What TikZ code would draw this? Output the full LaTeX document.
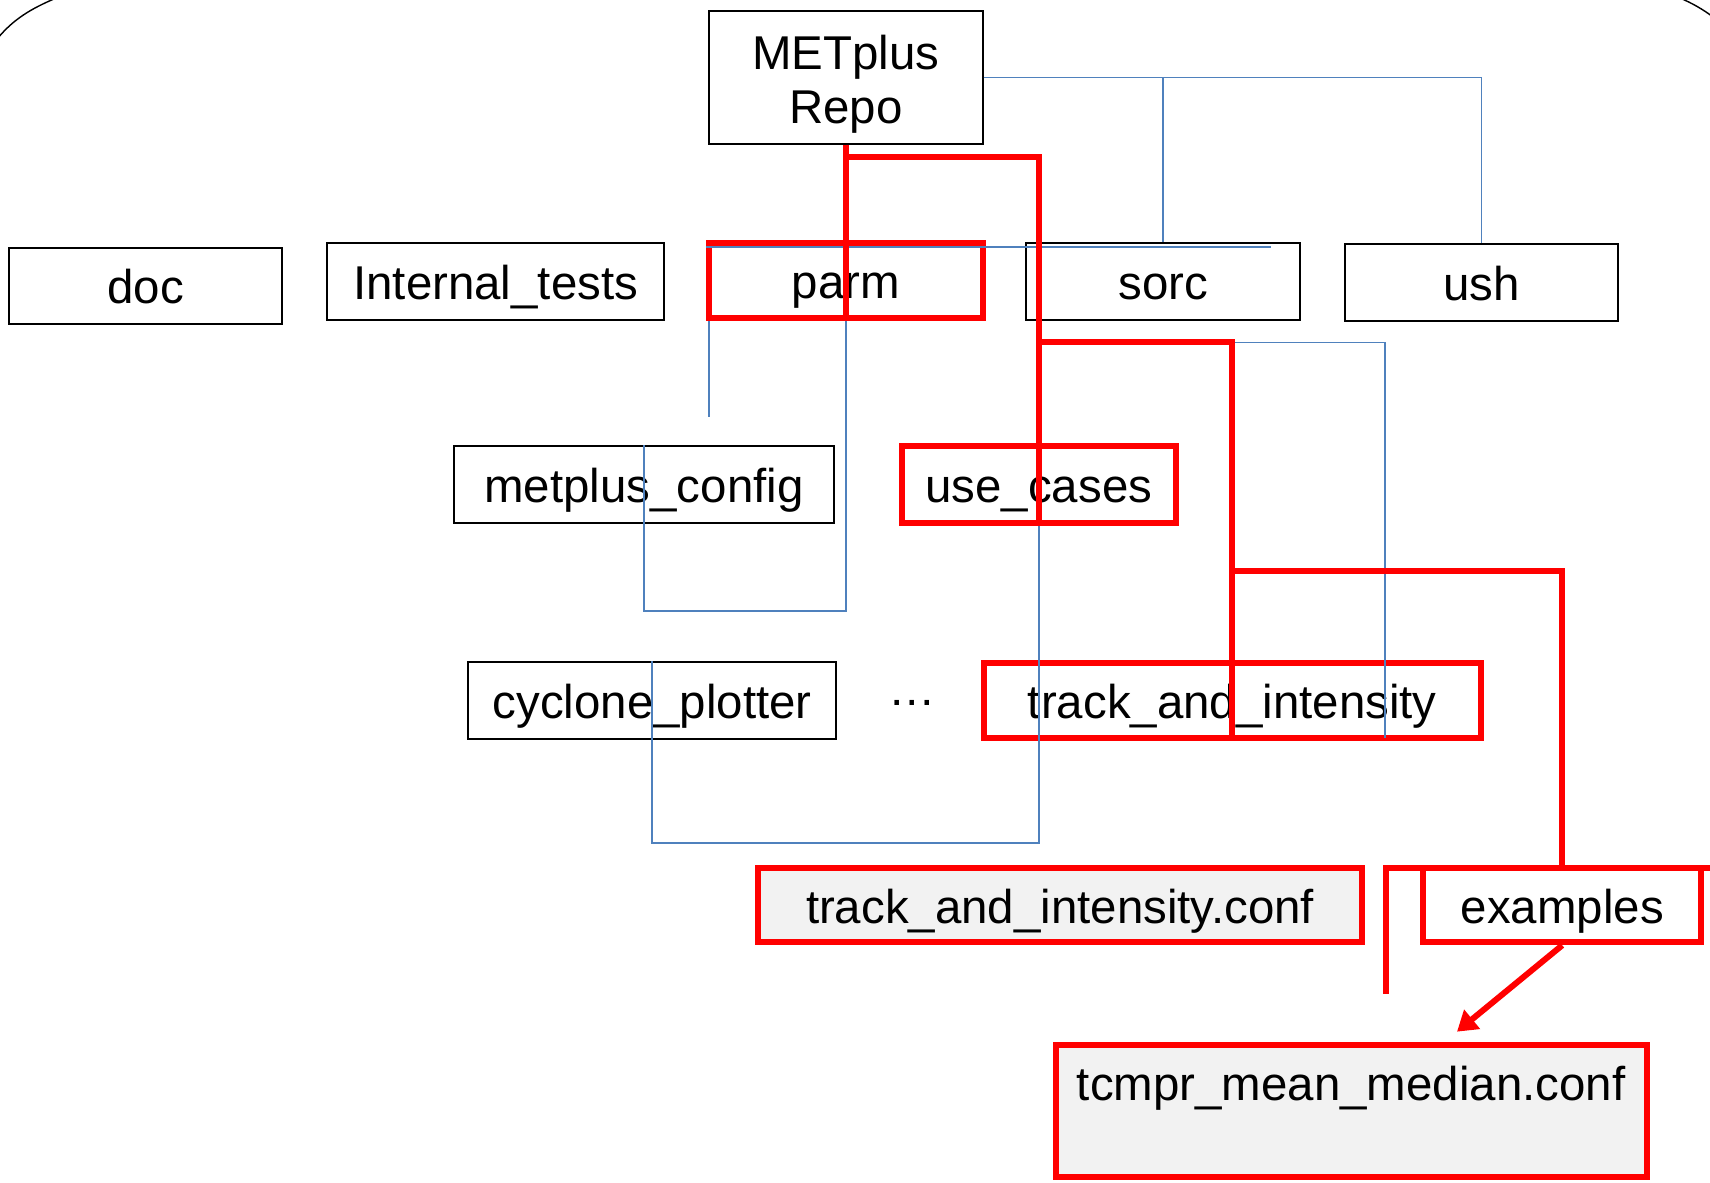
\documentclass[tikz,border=0pt]{standalone}
\usepackage{fontspec}
\setmainfont{Liberation Sans}
\usetikzlibrary{arrows.meta}
\definecolor{bl}{RGB}{79,129,189}
\definecolor{rd}{RGB}{255,0,0}
\definecolor{gf}{RGB}{242,242,242}
\begin{document}
\begin{tikzpicture}[x=1pt,y=-1pt,
 every node/.style={font=\fontsize{43.5}{50}\selectfont, inner sep=0pt},
 base/.style={draw=black, line width=1.8pt, minimum width=251pt, minimum height=70pt},
 tbox/.style={base, text height=37pt, text depth=4pt},
 hbox/.style={draw=rd, line width=5.5pt, minimum width=251pt, minimum height=70pt, text height=37pt, text depth=4pt},
 bline/.style={draw=bl, line width=1.5pt},
 rline/.style={draw=rd, line width=5.5pt},
 rim/.style={draw=black, line width=1.3pt}]
\useasboundingbox (0,0) rectangle (1568,1084);
\fill[white] (0,0) rectangle (1568,1084);

% outer rim
\draw[rim] (-2,35) .. controls (12,18) and (28,8) .. (52,-2);
\draw[rim] (1540,-2) .. controls (1552,3) and (1562,9) .. (1570,15);

% black boxes
\node[base, minimum height=122pt, align=center] (repo) at (775.5,71) {\rule{0pt}{44pt}METplus\\Repo};
\node[tbox] (doc) at (133.5,262) {doc};
\node[tbox, minimum width=309pt] (itests) at (454.5,258) {Internal\_tests};
\node[tbox] (sorc) at (1066.5,258) {sorc};
\node[tbox] (ush) at (1358.5,259) {ush};
\node[tbox, minimum width=349pt, minimum height=71pt] (mconfig) at (590.5,444.5) {metplus\_config};
\node[tbox, minimum width=338pt, minimum height=71pt] (cyclone) at (598,642.5) {cyclone\_plotter};
\node[text height=37pt, text depth=4pt] (dots) at (836,642.5) {\raisebox{12pt}{…}};

% red highlighted boxes
\node[hbox, minimum height=69pt] (parm) at (775.5,257.5) {parm};
\node[hbox, minimum height=71pt] (usecases) at (952.5,444.5) {use\_cases};
\node[hbox, minimum width=456pt, minimum height=69pt] (tai) at (1130,642.5) {track\_and\_intensity};
\node[hbox, fill=gf, minimum width=554pt, minimum height=68pt] (taiconf) at (972,830) {track\_and\_intensity.conf};
\node[hbox, minimum width=255pt, minimum height=68pt] (examples) at (1432.5,830) {examples};
\node[hbox, fill=gf, minimum width=542pt, minimum height=121pt, text depth=56pt] (tcmpr) at (1239,1018.5) {tcmpr\_mean\_median.conf};

% coordinates
\coordinate (b1) at (1165,226.5);
\coordinate (b2) at (650,382);
\coordinate (b3) at (775.5,560);
\coordinate (b4) at (952.5,773);
\coordinate (b5) at (1130,314);
\coordinate (r2) at (952.5,314);
\coordinate (r3) at (1130,524);
\coordinate (r4) at (1271,911);
\coordinate (r5) at (1572,796);
\coordinate (a1) at (1336,946);

% blue connectors
\draw[bline] (repo.east) -| (ush.north);
\draw[bline] (sorc.north |- repo.east) -- (sorc.north);
\draw[bline] (b1 -| parm.west) -- (b1);
\draw[bline] (b2 |- parm.south) -- (b2);
\draw[bline] (parm.south) -- (b3) -| (mconfig.north);
\draw[bline] (usecases.south) -- (b4) -| (cyclone.north);
\draw[bline] (b5) -| ([xshift=140pt,yshift=3pt]tai.south);

% red connectors
\draw[rline] (repo.south) -- (parm.south);
\draw[rline] ([yshift=-11pt]repo.south) -| (usecases.south);
\draw[rline] (r2) -| (tai.south);
\draw[rline] (r3) -| (examples.north);
\draw[rline] (r4) |- (r5);
\draw[rline, -{Triangle[length=18pt,width=22pt]}] (examples.south) -- (a1);
\end{tikzpicture}
\end{document}
